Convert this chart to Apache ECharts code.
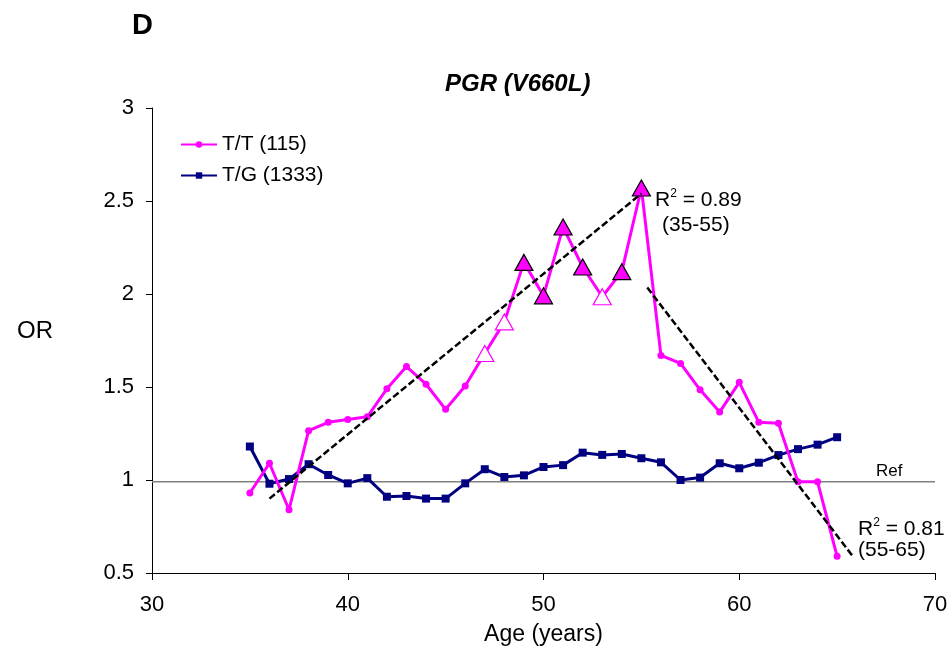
<!DOCTYPE html>
<html>
<head>
<meta charset="utf-8">
<script src="https://cdn.jsdelivr.net/npm/echarts@6/dist/echarts.min.js"></script>
<style>
  html, body { margin: 0; padding: 0; background: #fff; }
  #main { width: 952px; height: 655px; }
</style>
</head>
<body>
<div id="main"></div>
<script>
// ages 35..65
var ages = [35,36,37,38,39,40,41,42,43,44,45,46,47,48,49,50,51,52,53,54,55,56,57,58,59,60,61,62,63,64,65];
var ttOR = [0.93,1.09,0.84,1.265,1.31,1.325,1.34,1.49,1.61,1.515,1.38,1.505,1.68,1.85,2.17,1.99,2.36,2.145,1.985,2.12,2.57,1.67,1.627,1.485,1.365,1.525,1.31,1.305,0.99,0.99,0.59];
var tgOR = [1.18,0.98,1.005,1.085,1.027,0.982,1.01,0.91,0.914,0.9,0.9,0.982,1.058,1.016,1.025,1.07,1.08,1.147,1.135,1.14,1.117,1.095,1.0,1.013,1.09,1.063,1.093,1.134,1.166,1.19,1.23];
var filledTri = [49,50,51,52,54,55];
var openTri = [47,48,53];
var trend1 = [[36, 0.90], [55, 2.54]];
var trend2 = [[55.3, 2.035], [65.8, 0.59]];
var refLevel = 0.99;

var pink = '#FF00FF';
var navy = '#000080';

var ttData = ages.map(function (a, i) {
    if (filledTri.indexOf(a) >= 0) {
        return { value: [a, ttOR[i]], symbol: 'triangle', symbolSize: [18, 16],
                 itemStyle: { color: pink, borderColor: '#000', borderWidth: 1.2 } };
    }
    if (openTri.indexOf(a) >= 0) {
        return { value: [a, ttOR[i]], symbol: 'triangle', symbolSize: [18, 16],
                 itemStyle: { color: '#fff', borderColor: pink, borderWidth: 1.2 } };
    }
    return [a, ttOR[i]];
});
var tgData = ages.map(function (a, i) { return [a, tgOR[i]]; });

var chart = echarts.init(document.getElementById('main'));
var font = 'Liberation Sans, Arial, sans-serif';
var sup = { s: { fontSize: 12, verticalAlign: 'top', padding: [0, 0, 12, 0] } };

chart.setOption({
    animation: false,
    textStyle: { fontFamily: font },
    grid: { left: 152, right: 17, top: 108, bottom: 82 },
    legend: {
        left: 175, top: 129, orient: 'vertical', itemGap: 10,
        itemWidth: 36, itemHeight: 8, itemTextGap: 3,
        textStyle: { fontSize: 21, color: '#000', fontFamily: font },
        data: ['T/T (115)', 'T/G (1333)']
    },
    xAxis: {
        type: 'value', min: 30, max: 70, interval: 10,
        name: 'Age (years)', nameLocation: 'middle', nameGap: 50,
        nameTextStyle: { fontSize: 23, color: '#000' },
        axisLine: { lineStyle: { color: '#000', width: 1 } },
        axisTick: { length: 7, lineStyle: { color: '#000' } },
        axisLabel: { fontSize: 22, color: '#000', margin: 21 },
        splitLine: { show: false }
    },
    yAxis: {
        type: 'value', min: 0.5, max: 3, interval: 0.5,
        axisLine: { show: true, lineStyle: { color: '#000', width: 1 } },
        axisTick: { show: true, length: 6, lineStyle: { color: '#000' } },
        axisLabel: { fontSize: 22, color: '#000', margin: 18 },
        splitLine: { show: false }
    },
    graphic: [
        { type: 'text', left: 132, top: 11, style: { text: 'D', font: 'bold 29px ' + font, fill: '#000' } },
        { type: 'text', left: 445, top: 72, style: { text: 'PGR (V660L)', font: 'italic bold 24px ' + font, fill: '#000' } },
        { type: 'text', left: 17, top: 319, style: { text: 'OR', font: '24px ' + font, fill: '#000' } },
        { type: 'text', left: 876, top: 463, style: { text: 'Ref', font: '17px ' + font, fill: '#000' } },
        { type: 'text', left: 655, top: 188, style: {
            text: 'R{s|2} = 0.89', font: '21px ' + font, fill: '#000', rich: sup } },
        { type: 'text', left: 662, top: 215, style: { text: '(35-55)', font: '21px ' + font, fill: '#000' } },
        { type: 'text', left: 858, top: 517, style: {
            text: 'R{s|2} = 0.81', font: '21px ' + font, fill: '#000', rich: sup } },
        { type: 'text', left: 858, top: 540, style: { text: '(55-65)', font: '21px ' + font, fill: '#000' } }
    ],
    series: [
        {
            name: 'Ref', type: 'line', data: [[30, refLevel], [70, refLevel]],
            symbol: 'none', lineStyle: { color: '#808080', width: 1.5 }, z: 1, silent: true
        },
        {
            name: 'trend1', type: 'line', data: trend1, symbol: 'none', z: 4,
            lineStyle: { color: '#000', width: 2.5, type: [7, 3] }
        },
        {
            name: 'trend2', type: 'line', data: trend2, symbol: 'none', z: 4,
            lineStyle: { color: '#000', width: 2.5, type: [7, 3] }
        },
        {
            name: 'T/G (1333)', type: 'line', data: tgData, z: 2,
            symbol: 'rect', symbolSize: 8,
            lineStyle: { color: navy, width: 3 }, itemStyle: { color: navy }
        },
        {
            name: 'T/T (115)', type: 'line', data: ttData, z: 3,
            symbol: 'circle', symbolSize: 7,
            lineStyle: { color: pink, width: 3 }, itemStyle: { color: pink }
        }
    ]
});
</script>
</body>
</html>
